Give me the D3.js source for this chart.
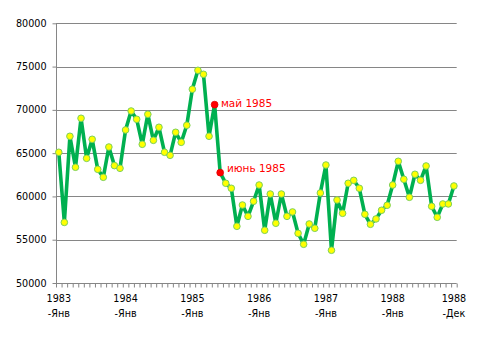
<!DOCTYPE html>
<html>
<head>
<meta charset="utf-8">
<script src="https://cdn.jsdelivr.net/npm/d3@7"></script>
<style>
  html, body { margin: 0; padding: 0; background: #fff; }
  svg { display: block; }
</style>
</head>
<body>
<svg id="chart" width="482" height="343"></svg>
<script>
// ---- data ----
const years = ["1983", "1984", "1985", "1986", "1987", "1988"];
const months = ["Янв", "Фев", "Мар", "Апр", "Май", "Июн", "Июл", "Авг", "Сен", "Окт", "Ноя", "Дек"];
const categories = years.flatMap(y => months.map(m => y + "-" + m));

const values = [
  65100, 57000, 66950, 63370, 69030, 64400, 66600, 63130, 62210, 65710, 63560, 63250,
  67680, 69870, 68910, 66020, 69490, 66480, 67990, 65100, 64750, 67410, 66250, 68220,
  72380, 74570, 74110, 66950, 70600, 62750, 61520, 60940, 56550, 59010, 57700, 59440,
  61320, 56090, 60280, 56900, 60280, 57700, 58210, 55740, 54470, 56820, 56320, 60400,
  63630, 53780, 59590, 58050, 61520, 61860, 60940, 57940, 56780, 57400, 58400, 58980,
  61320, 64060, 61980, 59900, 62560, 61860, 63520, 58860, 57590, 59130, 59130, 61210
];

const highlightCats = ["1985-Май", "1985-Июн"];
const highlightLabels = ["май 1985", "июнь 1985"];

const yTicks = [50000, 55000, 60000, 65000, 70000, 75000, 80000];
const xTickCats = ["1983-Янв", "1984-Янв", "1985-Янв", "1986-Янв", "1987-Янв", "1988-Янв", "1988-Дек"];
const xTickLine1 = ["1983", "1984", "1985", "1986", "1987", "1988", "1988"];
const xTickLine2 = ["-Янв", "-Янв", "-Янв", "-Янв", "-Янв", "-Янв", "-Дек"];

// ---- layout ----
const plotL = 56, plotR = 456.7, plotT = 23.3, plotB = 283;
const svg = d3.select("#chart");
const font = "'DejaVu Sans', Verdana, sans-serif";

const x = d3.scaleBand().domain(categories).range([plotL, plotR]).paddingInner(0).paddingOuter(0);
const xIdx = d3.scaleLinear().domain([0, categories.length]).range([plotL, plotR]);
const y = d3.scaleLinear().domain([50000, 80000]).range([plotB, plotT]);
const cx = c => x(c) + x.bandwidth() / 2;

// gridlines
svg.append("g")
  .selectAll("line")
  .data(yTicks.filter(v => v !== 50000))
  .join("line")
  .attr("x1", plotL).attr("x2", plotR)
  .attr("y1", d => Math.round(y(d)) + 0.5).attr("y2", d => Math.round(y(d)) + 0.5)
  .attr("stroke", "#868686").attr("stroke-width", 1);

// y axis
const yAxis = svg.append("g")
  .attr("transform", `translate(${Math.round(plotL) + 0.5},0)`)
  .call(d3.axisLeft(y).tickValues(yTicks).tickSize(4).tickPadding(6).tickFormat(d3.format("d")));
yAxis.select(".domain").attr("stroke", "#868686").attr("d", `M0,${plotT}V${plotB}`);
yAxis.selectAll(".tick line").attr("stroke", "#868686");
yAxis.selectAll(".tick text").attr("font-family", font).attr("font-size", "9.6px").attr("fill", "#000");

// x axis: tick marks at category boundaries
const xAxisTicks = svg.append("g")
  .attr("transform", `translate(0,${Math.round(plotB) + 0.5})`)
  .call(d3.axisBottom(xIdx).tickValues(d3.range(categories.length + 1)).tickSize(4).tickFormat(""));
xAxisTicks.select(".domain").attr("stroke", "#868686").attr("d", `M${plotL},0H${plotR}`);
xAxisTicks.selectAll(".tick line").attr("stroke", "#868686");

// x axis labels
const xAxisLabels = svg.append("g")
  .attr("transform", `translate(0,${plotB})`)
  .call(d3.axisBottom(x).tickValues(xTickCats).tickSize(0).tickFormat(""));
xAxisLabels.select(".domain").remove();
xAxisLabels.selectAll(".tick").each(function(d) {
  const i = xTickCats.indexOf(d);
  const t = d3.select(this).append("text")
    .attr("font-family", font).attr("font-size", "9.6px").attr("fill", "#000")
    .attr("text-anchor", "middle");
  t.append("tspan").attr("x", 0).attr("y", 19.3).text(xTickLine1[i]);
  t.append("tspan").attr("x", 0).attr("y", 33.7).text(xTickLine2[i]);
});

// line
const line = d3.line().x((d, i) => cx(categories[i])).y(d => y(d));
svg.append("path")
  .datum(values)
  .attr("d", line)
  .attr("fill", "none")
  .attr("stroke", "#00B050")
  .attr("stroke-width", 3.6)
  .attr("stroke-linejoin", "round");

// markers
svg.append("g")
  .selectAll("circle")
  .data(values.map((v, i) => ({ c: categories[i], v })).filter(d => !highlightCats.includes(d.c)))
  .join("circle")
  .attr("cx", d => cx(d.c)).attr("cy", d => y(d.v))
  .attr("r", 3.3)
  .attr("fill", "#FFFF00")
  .attr("stroke", "#7CD05A")
  .attr("stroke-width", 1);

// highlighted points
const hl = highlightCats.map((c, k) => ({ c, v: values[categories.indexOf(c)], label: highlightLabels[k] }));
svg.append("g")
  .selectAll("circle")
  .data(hl)
  .join("circle")
  .attr("cx", d => cx(d.c)).attr("cy", d => y(d.v))
  .attr("r", 3.4)
  .attr("fill", "#FF0000")
  .attr("stroke", "#E00000")
  .attr("stroke-width", 0.8);

const labelDy = [2.8, -0.6];
const labelDx = [6.3, 6.7];
svg.append("g")
  .selectAll("text")
  .data(hl)
  .join("text")
  .attr("x", (d, k) => cx(d.c) + labelDx[k])
  .attr("y", (d, k) => y(d.v) + labelDy[k])
  .attr("font-family", font).attr("font-size", "10.5px").attr("fill", "#FF0000")
  .text(d => d.label);
</script>
</body>
</html>
